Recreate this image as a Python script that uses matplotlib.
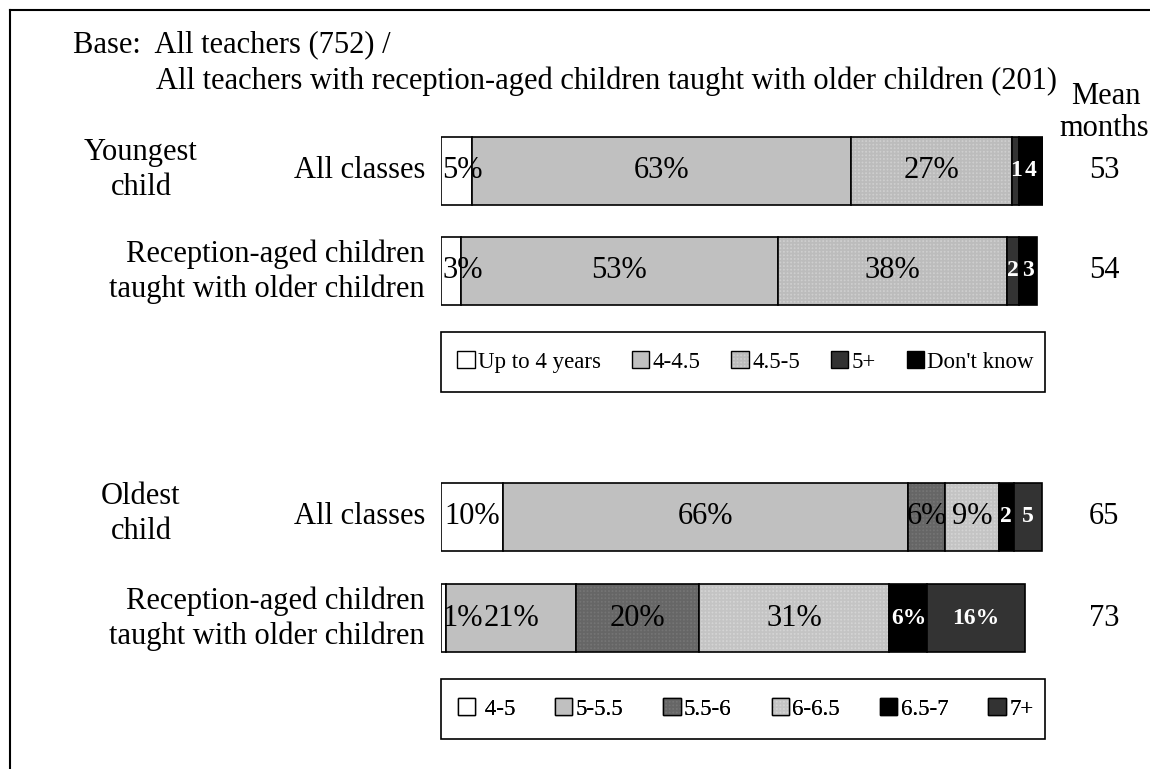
import matplotlib
matplotlib.use('Agg')
import matplotlib.pyplot as plt
from matplotlib.patches import Patch, Rectangle
from matplotlib.lines import Line2D

plt.rcParams['font.family'] = ['Liberation Serif', 'DejaVu Serif']
plt.rcParams['hatch.linewidth'] = 0.5

# ---- data ----
young_cats = ['Up to 4 years', '4-4.5', '4.5-5', '5+', "Don't know"]
young_all = [5.1, 63.0, 26.8, 1.1, 4.0]
young_all_labels = ['5%', '63%', '27%', '1', '4']
young_rec = [3.3, 52.7, 38.1, 1.9, 3.0]
young_rec_labels = ['3%', '53%', '38%', '2', '3']
young_mean = ['53', '54']

old_cats = [' 4-5', '5-5.5', '5.5-6', '6-6.5', '6.5-7', '7+']
old_all = [10.3, 67.3, 6.1, 9.0, 2.4, 4.8]
old_all_labels = ['10%', '66%', '6%', '9%', '2', '5']
old_rec = [0.9, 21.5, 20.5, 31.6, 6.3, 16.2]
old_rec_labels = ['1%', '21%', '20%', '31%', '6%', '16%']
old_mean = ['65', '73']

row_names = ['All classes', 'Reception-aged children\ntaught with older children']
group_names = ['Youngest\nchild', 'Oldest\nchild']

# ---- styles: (face, hatch, hatch colour, white label?) ----
dots = '+' * 12
young_styles = [('white', None, None, False),
                ('#c0c0c0', None, None, False),
                ('#ececec', dots, '#bcbcbc', False),
                ('#333333', None, None, True),
                ('black', None, None, True)]
old_styles = [('white', None, None, False),
              ('#c0c0c0', None, None, False),
              ('#8c8c8c', dots, '#666666', False),
              ('#eeeeee', dots, '#c4c4c4', False),
              ('black', None, None, True),
              ('#333333', None, None, True)]

FS = 22
W, H = 1150, 769
fig = plt.figure(figsize=(W / 100, H / 100), dpi=100)
# axis: x in percent, y in pixel rows from top
ax = fig.add_axes([441 / W, 0, 602 / W, 1])
ax.set_xlim(0, 100)
ax.set_ylim(H, 0)
ax.axis('off')

def fx(p):
    return p / W

def fy(p):
    return 1 - p / H

BAR_H = 68

def draw_bar(yc, vals, labels, styles):
    left = 0
    for v, lab, (fc, hatch, hc, white) in zip(vals, labels, styles):
        if hatch:
            ax.barh(yc, v, left=left, height=BAR_H, color=fc, hatch=hatch,
                    edgecolor=hc, linewidth=0)
        else:
            ax.barh(yc, v, left=left, height=BAR_H, color=fc, linewidth=0)
        ax.barh(yc, v, left=left, height=BAR_H, fill=False,
                edgecolor='black', linewidth=1.2)
        if white:
            ax.text(left + v / 2, yc, lab, ha='center', va='center',
                    color='white', fontsize=17, fontweight='bold')
        elif left == 0 and v < 8:
            # label wider than the first slice: start it at the bar's left end
            ax.text(0.25, yc, lab, ha='left', va='center', fontsize=FS)
        else:
            ax.text(left + v / 2, yc, lab, ha='center', va='center',
                    fontsize=FS)
        left += v

def draw_legend(ytop, cats, styles, colspace):
    ax.add_patch(Rectangle((0, ytop), 100.3, 60, fill=False,
                           edgecolor='black', linewidth=1.2, clip_on=False))
    handles = []
    for fc, hatch, hc, white in styles:
        base = Patch(facecolor=fc, hatch=hatch, edgecolor=hc if hatch else fc,
                     linewidth=0)
        edge = Patch(fill=False, edgecolor='black', linewidth=1)
        handles.append((base, edge))
    leg = ax.legend(handles, cats, ncol=len(cats), loc='center',
                    bbox_to_anchor=(50.6, ytop + 30), bbox_transform=ax.transData,
                    frameon=False, fontsize=16.5, handlelength=0.75,
                    handleheight=0.75, handletextpad=0.15,
                    columnspacing=colspace, borderpad=0)
    ax.add_artist(leg)

# youngest child
draw_bar(170.5, young_all, young_all_labels, young_styles)
draw_bar(271, young_rec, young_rec_labels, young_styles)
draw_legend(332, young_cats, young_styles, 1.35)

# oldest child
draw_bar(516.5, old_all, old_all_labels, old_styles)
draw_bar(618, old_rec, old_rec_labels, old_styles)
draw_legend(679, old_cats, old_styles, 1.75)

# row / group labels
for yc, name in zip([170.5, 272, 516.5, 619], row_names * 2):
    fig.text(fx(425), fy(yc), name, ha='right', va='center', fontsize=FS,
             linespacing=1.26)
for yc, name in zip([170, 514], group_names):
    fig.text(fx(141), fy(yc), name, ha='center', va='center', fontsize=FS,
             linespacing=1.3)

# mean months column
fig.text(fx(1106), fy(97), 'Mean', ha='center', va='center', fontsize=FS)
fig.text(fx(1104), fy(128), 'months', ha='center', va='center', fontsize=FS)
for yc, m in zip([170.5, 271, 516.5, 618], young_mean + old_mean):
    fig.text(fx(1104), fy(yc), m, ha='center', va='center', fontsize=FS)

# base note
fig.text(fx(73), fy(45), 'Base:  All teachers (752) /', ha='left', va='center',
         fontsize=FS)
fig.text(fx(156), fy(81),
         'All teachers with reception-aged children taught with older children (201)',
         ha='left', va='center', fontsize=FS)

# outer frame (top and left)
fig.add_artist(Line2D([fx(10), fx(10)], [0, fy(10)], transform=fig.transFigure,
                      color='black', linewidth=1.5))
fig.add_artist(Line2D([fx(10), 1], [fy(10), fy(10)], transform=fig.transFigure,
                      color='black', linewidth=1.5))

fig.savefig('out.png', dpi=100)
